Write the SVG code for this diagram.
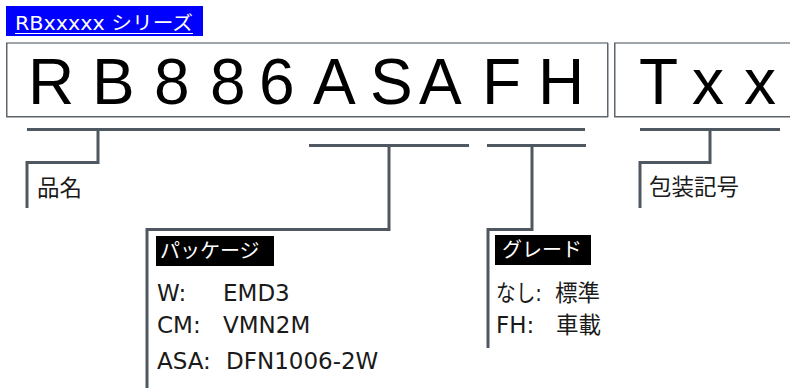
<svg xmlns="http://www.w3.org/2000/svg" width="790" height="388" viewBox="0 0 790 388">
<style>
.big{font-family:"Liberation Sans",Arial,sans-serif;font-size:64px;fill:#000}
.lbl{font-family:"DejaVu Sans","Noto Sans CJK JP",sans-serif;font-size:23px;fill:#1a1a1a}
.jp{font-family:"Noto Sans CJK JP",sans-serif;font-size:22.5px;fill:#1a1a1a}
.hd{font-family:"Noto Sans CJK JP",sans-serif;font-size:20px;fill:#fff}
.conn{fill:none;stroke:#4f5861;stroke-width:3}
.bt{stroke:#a0a5aa;stroke-width:2}
.bd{stroke:#5d656d;stroke-width:1.5}
</style>
<rect width="790" height="388" fill="#fff"/>
<g id="title">
<rect x="6" y="6" width="197" height="30" fill="#0000ff"/>
<text x="15" y="30" font-family="'DejaVu Sans','Noto Sans CJK JP',sans-serif" font-size="19" fill="#fff" textLength="178" lengthAdjust="spacingAndGlyphs">RBxxxxx シリーズ</text>
<line x1="15" y1="33.5" x2="193" y2="33.5" stroke="#fff" stroke-width="1.2"/>
</g>
<g id="box-name">
<rect x="6.5" y="43" width="601.5" height="74" fill="#fff"/>
<line class="bt" x1="6" y1="43" x2="608" y2="43"/>
<line class="bd" x1="6.75" y1="43" x2="6.75" y2="117"/>
<line class="bd" x1="607.75" y1="43" x2="607.75" y2="117"/>
<line class="bd" x1="6" y1="116.75" x2="608" y2="116.75"/>
<text class="big" y="104"><tspan x="28">R</tspan><tspan x="92">B</tspan><tspan x="154">8</tspan><tspan x="210">8</tspan><tspan x="259">6</tspan><tspan x="313">A</tspan><tspan x="370">S</tspan><tspan x="419">A</tspan><tspan x="482">F</tspan><tspan x="538">H</tspan></text>
</g>
<g id="box-pack">
<line class="bt" x1="614" y1="43" x2="790" y2="43"/>
<line class="bd" x1="614.75" y1="43" x2="614.75" y2="117"/>
<line class="bd" x1="614" y1="116.75" x2="790" y2="116.75"/>
<text class="big" y="104"><tspan x="639">T</tspan><tspan x="692">x</tspan><tspan x="744">x</tspan></text>
</g>
<g id="connectors">
<path class="conn" d="M27 129.5 H585 M98 129.5 V162.5 H27 V208"/>
<path class="conn" d="M309 145.5 H469 M389 145.5 V229.5 H147 V388"/>
<path class="conn" d="M487 145.5 H586 M532 145.5 V229.5 H488 V348"/>
<path class="conn" d="M640 129.5 H780 M710 129.5 V162.5 H640 V208"/>
</g>
<g id="label-hinmei">
<text class="jp" x="37" y="196">品名</text>
</g>
<g id="label-housou">
<text class="jp" x="649" y="195">包装記号</text>
</g>
<g id="label-package">
<rect x="156" y="236" width="118" height="30" fill="#000"/>
<text class="hd" x="160" y="258">パッケージ</text>
<text class="lbl" x="157" y="301">W:</text><text class="lbl" x="223" y="301">EMD3</text>
<text class="lbl" x="157" y="333">CM:</text><text class="lbl" x="223" y="333">VMN2M</text>
<text class="lbl" x="157" y="369">ASA:</text><text class="lbl" x="226" y="369">DFN1006-2W</text>
</g>
<g id="label-grade">
<rect x="495" y="235" width="96" height="30" fill="#000"/>
<text class="hd" x="502" y="257">グレード</text>
<text class="lbl" x="496" y="301" textLength="46" lengthAdjust="spacingAndGlyphs">なし:</text><text class="jp" x="555" y="301">標準</text>
<text class="lbl" x="496" y="333">FH:</text><text class="jp" x="556" y="333">車載</text>
</g>
</svg>
